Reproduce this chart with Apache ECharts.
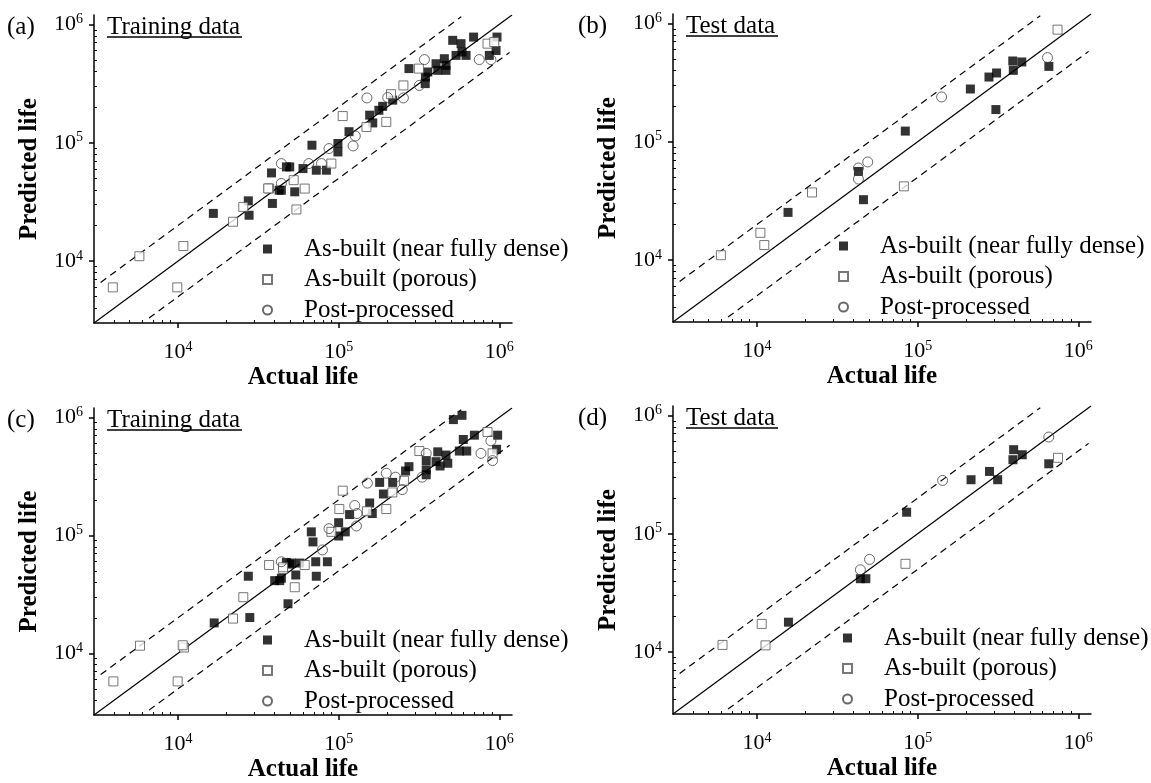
<!DOCTYPE html>
<html>
<head>
<meta charset="utf-8">
<script src="https://cdn.jsdelivr.net/npm/echarts@6/dist/echarts.min.js"></script>
<style>
  html, body { margin: 0; padding: 0; background: #fff; }
  #chart { width: 1151px; height: 783px; }
</style>
</head>
<body>
<div id="chart"></div>
<script>
// values are [actual life, predicted life]
const aDense = [[16600,25300],[27400,32300],[27700,24400],[38700,30700],[42600,39700],[38200,55600],[47300,62500],[53300,38500],[49600,62500],[60000,60500],[72600,58600],[83900,58600],[68200,95300],[99000,98500],[99000,83600],[116000,124000],[156000,171000],[163000,147000],[178000,188000],[188000,203000],[217000,229000],[274000,423000],[346000,316000],[347000,359000],[359000,396000],[414000,409000],[466000,409000],[404000,465000],[466000,451000],[455000,513000],[538000,547000],[621000,547000],[586000,584000],[578000,687000],[513000,733000],[692000,781000],[968000,781000],[955000,602000],[867000,547000],[44000,39700]];
const aPorous = [[3930,6000],[5750,11000],[10800,13400],[9900,6000],[22000,21500],[25500,28700],[36900,41100],[36400,41100],[54600,27300],[52500,48300],[61500,41000],[90100,66700],[106000,168000],[149000,136000],[198000,150000],[212000,257000],[253000,305000],[316000,423000],[845000,687000],[931000,709000]];
const aPost = [[44000,45300],[44000,66700],[65200,66700],[78200,66700],[87100,89300],[123000,94000],[127000,114000],[150000,239000],[202000,241000],[253000,239000],[318000,305000],[342000,504000],[751000,504000],[887000,504000]];

const bDense = [[15600,25300],[46000,32400],[42800,56100],[83800,123000],[213000,279000],[278000,352000],[310000,381000],[307000,187000],[391000,481000],[445000,472000],[394000,401000],[656000,433000]];
const bPorous = [[5960,11000],[10500,17000],[11100,13400],[22000,37300],[82100,42000],[743000,885000]];
const bPost = [[42800,60000],[42800,48400],[48900,67500],[141000,239000],[643000,514000]];

const cDense = [[16800,18100],[27400,45000],[28000,20100],[40000,41300],[43000,41300],[48400,26300],[44000,43300],[47300,58900],[49600,57000],[50800,58200],[57300,58200],[54100,46100],[72000,59700],[85100,59700],[72600,45000],[67600,107000],[69200,87900],[100000,128000],[100000,98700],[110000,107000],[117000,150000],[156000,188000],[162000,153000],[190000,224000],[180000,281000],[217000,281000],[261000,351000],[274000,382000],[351000,430000],[351000,359000],[351000,326000],[404000,421000],[428000,387000],[478000,408000],[466000,479000],[414000,510000],[564000,518000],[627000,518000],[597000,649000],[700000,706000],[977000,706000],[962000,536000],[518000,957000],[586000,1040000]];
const cPorous = [[3960,5780],[5800,11600],[10900,11200],[10700,11700],[9950,5780],[22000,19700],[25500,29900],[36900,56000],[45100,51800],[45100,53600],[61500,56000],[53300,36300],[90100,107000],[101000,167000],[106000,239000],[150000,160000],[198000,167000],[216000,231000],[255000,290000],[318000,518000],[845000,752000],[908000,495000]];
const cPost = [[44000,59700],[79300,75200],[87100,114000],[129000,120000],[130000,153000],[126000,179000],[151000,277000],[198000,336000],[226000,311000],[249000,244000],[331000,311000],[351000,495000],[769000,495000],[887000,632000],[908000,430000]];

const dDense = [[15700,17900],[44000,41700],[47600,41700],[85400,152000],[215000,286000],[280000,336000],[315000,286000],[396000,513000],[392000,422000],[448000,465000],[655000,390000]];
const dPorous = [[6100,11500],[10700,17300],[11300,11400],[84000,55700],[748000,438000]];
const dPost = [[44000,49600],[50200,60700],[143000,282000],[655000,656000]];

const seriesNames = ['As-built (near fully dense)', 'As-built (porous)', 'Post-processed'];
const majorTicks = [1e4, 1e5, 1e6];
const minorTicks = [4000,5000,6000,7000,8000,9000,2e4,3e4,4e4,5e4,6e4,7e4,8e4,9e4,2e5,3e5,4e5,5e5,6e5,7e5,8e5,9e5];
const axisMin = 3000, axisMax = 1.2e6;
const diagLine = [[3000,3000],[1.2e6,1.2e6]];
const upperBand = [[3300,6600],[5.8e5,1.16e6]];
const lowerBand = [[6600,3300],[1.16e6,5.8e5]];

const FONT = '"Liberation Serif", "Times New Roman", serif';

const panels = [
  { letter: '(a)', title: 'Training data', left: 94, top: 15, letterX: 7, titleW: 135, legLeft: 262, legTop: 236, data: [aDense, aPorous, aPost] },
  { letter: '(b)', title: 'Test data', left: 673, top: 14, letterX: 578, titleW: 92, legLeft: 838, legTop: 233, data: [bDense, bPorous, bPost] },
  { letter: '(c)', title: 'Training data', left: 94, top: 408, letterX: 7, titleW: 135, legLeft: 262, legTop: 627, data: [cDense, cPorous, cPost] },
  { letter: '(d)', title: 'Test data', left: 673, top: 406, letterX: 578, titleW: 92, legLeft: 842, legTop: 625, data: [dDense, dPorous, dPost] }
];
const W = 418, H = 308;

const tickLabel = {
  customValues: majorTicks,
  formatter: v => '{b|10}{s|' + Math.round(Math.log10(v)) + '}',
  rich: {
    b: { fontSize: 22, fontFamily: FONT, color: '#000', lineHeight: 24 },
    s: { fontSize: 14, fontFamily: FONT, color: '#000', lineHeight: 14, verticalAlign: 'top' }
  }
};
const nameStyle = { fontSize: 25, fontWeight: 'bold', fontFamily: FONT, color: '#000' };

function mainAxis(i, isX) {
  return {
    type: 'log', logBase: 10, gridIndex: i, min: axisMin, max: axisMax,
    position: isX ? 'bottom' : 'left',
    axisLine: { show: true, onZero: false, lineStyle: { color: '#000', width: 1.5 } },
    axisTick: { show: true, inside: false, length: 5, customValues: majorTicks, lineStyle: { color: '#000', width: 1.5 } },
    axisLabel: Object.assign({ margin: isX ? 17 : 11 }, tickLabel),
    splitLine: { show: false },
    name: isX ? 'Actual life' : 'Predicted life',
    nameLocation: 'middle',
    nameGap: isX ? 42 : 52,
    nameTextStyle: nameStyle
  };
}
function minorAxis(i, isX) {
  return {
    type: 'log', logBase: 10, gridIndex: i, min: axisMin, max: axisMax,
    position: isX ? 'bottom' : 'left',
    axisLine: { show: false },
    axisTick: { show: true, inside: true, length: 3, customValues: minorTicks, lineStyle: { color: '#000', width: 1 } },
    axisLabel: { show: false },
    splitLine: { show: false }
  };
}

const grids = [], xAxes = [], yAxes = [], series = [], legends = [], graphics = [];
panels.forEach((p, i) => {
  grids.push({ left: p.left, top: p.top, width: W, height: H });
  xAxes.push(mainAxis(i, true), minorAxis(i, true));
  yAxes.push(mainAxis(i, false), minorAxis(i, false));
  const ax = { xAxisIndex: 2 * i, yAxisIndex: 2 * i };
  [[diagLine, 'solid'], [upperBand, 'dashed'], [lowerBand, 'dashed']].forEach(([d, t]) => {
    series.push(Object.assign({
      type: 'line', data: d, symbol: 'none', silent: true, z: 1,
      lineStyle: { color: '#000', width: 1.2, type: t === 'dashed' ? [7, 5] : 'solid' }
    }, ax));
  });
  series.push(Object.assign({
    type: 'scatter', name: seriesNames[0], data: p.data[0], symbol: 'rect', symbolSize: 9, z: 3,
    itemStyle: { color: '#000' }
  }, ax));
  series.push(Object.assign({
    type: 'scatter', name: seriesNames[1], data: p.data[1], symbol: 'rect', symbolSize: 9, z: 4,
    itemStyle: { color: '#fff', borderColor: '#555', borderWidth: 1 }
  }, ax));
  series.push(Object.assign({
    type: 'scatter', name: seriesNames[2], data: p.data[2], symbol: 'circle', symbolSize: 10, z: 5,
    itemStyle: { color: 'rgba(255,255,255,0)', borderColor: '#444', borderWidth: 1 }
  }, ax));
  legends.push({
    orient: 'vertical', left: p.legLeft, top: p.legTop, padding: 0, itemWidth: 9, itemHeight: 9, itemGap: 4.5,
    selectedMode: false, data: seriesNames,
    textStyle: { fontSize: 25, fontFamily: FONT, color: '#000', lineHeight: 26, padding: [0, 0, 0, 27] }
  });
  const cy = p.top + 12;
  graphics.push(
    { type: 'text', x: p.letterX, y: cy, style: { text: p.letter, font: '25px ' + FONT, fill: '#000', verticalAlign: 'middle' } },
    { type: 'text', x: p.left + 13, y: cy, style: { text: p.title, font: '25px ' + FONT, fill: '#000', verticalAlign: 'middle' } },
    { type: 'line', shape: { x1: p.left + 13, y1: cy + 10, x2: p.left + 13 + p.titleW, y2: cy + 10 }, style: { stroke: '#000', lineWidth: 1.5 } }
  );
});

const chart = echarts.init(document.getElementById('chart'));
chart.setOption({
  animation: false,
  backgroundColor: '#fff',
  grid: grids,
  xAxis: xAxes,
  yAxis: yAxes,
  legend: legends,
  graphic: graphics,
  series: series
});
</script>
</body>
</html>
